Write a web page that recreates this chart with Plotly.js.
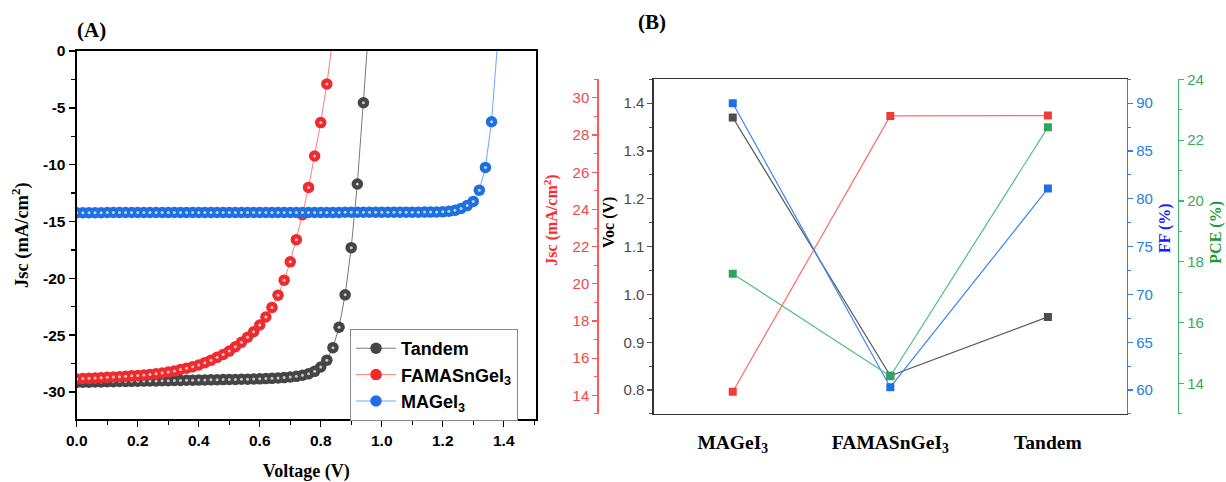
<!DOCTYPE html>
<html>
<head>
<meta charset="utf-8">
<script src="https://cdn.plot.ly/plotly-3.0.1.min.js"></script>
<style>html,body{margin:0;padding:0;background:#fff;}#chart{width:1226px;height:482px;}</style>
</head>
<body>
<div id="chart"></div>
<script>
// ---------- Panel (A): J-V curves ----------
const vTandem = [0.00,0.02,0.04,0.06,0.08,0.10,0.12,0.14,0.16,0.18,0.20,0.22,0.24,0.26,0.28,0.30,0.32,0.34,0.36,0.38,0.40,0.42,0.44,0.46,0.48,0.50,0.52,0.54,0.56,0.58,0.60,0.62,0.64,0.66,0.68,0.70,0.72,0.74,0.76,0.78,0.80,0.82,0.84,0.86,0.88,0.90,0.92,0.94,0.96];
const jTandem = [-29.15,-29.14,-29.13,-29.12,-29.11,-29.10,-29.09,-29.08,-29.07,-29.06,-29.05,-29.04,-29.03,-29.02,-29.01,-29.00,-28.99,-28.98,-28.97,-28.96,-28.95,-28.94,-28.93,-28.92,-28.91,-28.90,-28.89,-28.88,-28.87,-28.85,-28.84,-28.82,-28.80,-28.77,-28.73,-28.68,-28.62,-28.53,-28.40,-28.18,-27.80,-27.20,-26.10,-24.30,-21.45,-17.30,-11.70,-4.55,3.00];

const vFAMA = [0.00,0.02,0.04,0.06,0.08,0.10,0.12,0.14,0.16,0.18,0.20,0.22,0.24,0.26,0.28,0.30,0.32,0.34,0.36,0.38,0.40,0.42,0.44,0.46,0.48,0.50,0.52,0.54,0.56,0.58,0.60,0.62,0.64,0.66,0.68,0.70,0.72,0.74,0.76,0.78,0.80,0.82,0.84];
const jFAMA = [-28.85,-28.82,-28.80,-28.77,-28.74,-28.71,-28.68,-28.65,-28.62,-28.58,-28.54,-28.50,-28.45,-28.40,-28.33,-28.25,-28.15,-28.02,-27.90,-27.78,-27.62,-27.42,-27.20,-26.95,-26.70,-26.40,-26.02,-25.62,-25.18,-24.70,-24.10,-23.40,-22.56,-21.48,-20.16,-18.55,-16.60,-14.40,-12.00,-9.24,-6.30,-2.90,1.20];

const vMAGe = [0.00,0.02,0.04,0.06,0.08,0.10,0.12,0.14,0.16,0.18,0.20,0.22,0.24,0.26,0.28,0.30,0.32,0.34,0.36,0.38,0.40,0.42,0.44,0.46,0.48,0.50,0.52,0.54,0.56,0.58,0.60,0.62,0.64,0.66,0.68,0.70,0.72,0.74,0.76,0.78,0.80,0.82,0.84,0.86,0.88,0.90,0.92,0.94,0.96,0.98,1.00,1.02,1.04,1.06,1.08,1.10,1.12,1.14,1.16,1.18,1.20,1.22,1.24,1.26,1.28,1.30,1.32,1.34,1.36,1.38];
const jMAGe = [-14.22,-14.22,-14.22,-14.22,-14.22,-14.21,-14.21,-14.21,-14.21,-14.21,-14.21,-14.21,-14.21,-14.21,-14.21,-14.20,-14.20,-14.20,-14.20,-14.20,-14.20,-14.20,-14.20,-14.20,-14.20,-14.20,-14.20,-14.20,-14.20,-14.20,-14.20,-14.20,-14.20,-14.20,-14.20,-14.20,-14.20,-14.20,-14.20,-14.20,-14.20,-14.20,-14.20,-14.20,-14.19,-14.19,-14.19,-14.19,-14.19,-14.19,-14.19,-14.19,-14.19,-14.18,-14.18,-14.18,-14.18,-14.17,-14.17,-14.16,-14.15,-14.10,-14.02,-13.85,-13.60,-13.23,-12.24,-10.24,-6.22,0.80];

const seriesNamesA = ['Tandem','FAMASnGeI<sub>3</sub>','MAGeI<sub>3</sub>'];
const yTickValsA = [-30,-25,-20,-15,-10,-5,0];
const yTickTextA = ['-30','-25','-20','-15','-10','-5','0'];

// ---------- Panel (B): device parameters ----------
const devices = ['MAGeI<sub>3</sub>','FAMASnGeI<sub>3</sub>','Tandem'];
const voc = [1.370, 0.830, 0.953];
const jsc = [14.2, 29.03, 29.05];
const ff  = [90.0, 60.3, 81.07];
const pce = [17.61, 14.24, 22.42];

// ---------- styles ----------
const SERIF = 'Liberation Serif, Times New Roman, serif';
const SANS = 'Liberation Sans, Arial, sans-serif';
const colA = [
  {m:'#454545', l:'#7a7a7a'},
  {m:'#ee2b2f', l:'#ff7d7d'},
  {m:'#1e6fe0', l:'#6aa8ff'}
];
const dataA = [[vTandem,jTandem],[vFAMA,jFAMA],[vMAGe,jMAGe]];

const traces = [];
dataA.forEach((d,i)=>{
  traces.push({
    type:'scatter', mode:'lines+markers', x:d[0], y:d[1], name:seriesNamesA[i],
    xaxis:'x', yaxis:'y', cliponaxis:true,
    line:{color:colA[i].l, width:1},
    marker:{color:colA[i].m, size:11.5, line:{width:0}}
  });
  traces.push({
    type:'scatter', mode:'markers', x:d[0], y:d[1], showlegend:false, hoverinfo:'skip',
    xaxis:'x', yaxis:'y', cliponaxis:true,
    marker:{color:'rgba(255,255,255,0.7)', size:3, line:{width:0}}
  });
});

const colB = [
  {m:'#4d4d4d', l:'#5a5a5a', ax:'y2'},
  {m:'#ee3b3b', l:'#ff6b6b', ax:'y3'},
  {m:'#1f6fe5', l:'#3b86f5', ax:'y4'},
  {m:'#2ea55e', l:'#4cc27a', ax:'y5'}
];
[voc,jsc,ff,pce].forEach((vals,i)=>{
  traces.push({
    type:'scatter', mode:'lines+markers', x:devices, y:vals, showlegend:false,
    xaxis:'x2', yaxis:colB[i].ax,
    line:{color:colB[i].l, width:1.2},
    marker:{symbol:'square', color:colB[i].m, size:8, line:{width:0}}
  });
});

function yB(extra){
  return Object.assign({
    showgrid:false, zeroline:false, showline:true, linewidth:1.5, ticks:'outside',
    ticklen:5, tickwidth:1.2, automargin:false,
    domain:[0.1411,0.8355]
  }, extra);
}

const layout = {
  width:1226, height:482,
  margin:{l:0,r:0,t:0,b:0},
  paper_bgcolor:'#ffffff', plot_bgcolor:'#ffffff',
  font:{family:SANS, color:'#000'},
  showlegend:true,
  legend:{
    x:0.2855, y:0.3174, xanchor:'left', yanchor:'top',
    bgcolor:'#ffffff', bordercolor:'#8a8a8a', borderwidth:1,
    font:{family:SANS, size:18, weight:700, color:'#000'},
    itemwidth:40, traceorder:'normal'
  },
  xaxis:{
    domain:[0.0626,0.4370], anchor:'y', range:[0,1.505],
    showline:true, mirror:true, linecolor:'#000', linewidth:2.2,
    ticks:'outside', ticklen:6, tickwidth:1.5, tickcolor:'#000',
    tick0:0, dtick:0.2, tickformat:'.1f',
    minor:{dtick:0.1, ticks:'outside', ticklen:3.5, tickwidth:1.2, tickcolor:'#000'},
    showgrid:false, zeroline:false, automargin:false,
    tickfont:{family:SANS, size:15.5, weight:700, color:'#000'},
    title:{text:'Voltage (V)', font:{family:SERIF, size:18, weight:700, color:'#000'}, standoff:18}
  },
  yaxis:{
    domain:[0.1301,0.8942], anchor:'x', range:[-32.4,0],
    showline:true, mirror:true, linecolor:'#000', linewidth:2.2,
    ticks:'outside', ticklen:6, tickwidth:1.5, tickcolor:'#000',
    tickmode:'array', tickvals:yTickValsA, ticktext:yTickTextA,
    minor:{dtick:2.5, ticks:'outside', ticklen:3.5, tickwidth:1.2, tickcolor:'#000'},
    showgrid:false, zeroline:false, automargin:false,
    tickfont:{family:SANS, size:15.5, weight:700, color:'#000'},
    title:{text:'Jsc (mA/cm<sup>2</sup>)', font:{family:SERIF, size:18.5, weight:700, color:'#000'}, standoff:10}
  },
  xaxis2:{
    domain:[0.5334,0.9190], anchor:'y2', type:'category', range:[-0.5,2.5],
    showline:true, mirror:true, linecolor:'#333', linewidth:1.5,
    ticks:'', ticklabelstandoff:10, showgrid:false, zeroline:false, automargin:false,
    tickfont:{family:SERIF, size:19.5, weight:700, color:'#000'}
  },
  yaxis2: yB({
    anchor:'x2', side:'left', range:[0.75,1.45], linecolor:'#333', tickcolor:'#555',
    dtick:0.1, tick0:0, tickformat:'.1f',
    minor:{dtick:0.05, ticks:'outside', ticklen:3, tickwidth:1, tickcolor:'#555'},
    tickfont:{family:SANS, size:15, color:'#4a4a4a'}
  }),
  yaxis3: yB({
    overlaying:'y2', anchor:'free', position:0.4872, side:'left', range:[13,31],
    linecolor:'#ff5a5a', tickcolor:'#ff5a5a', dtick:2, tick0:0,
    minor:{dtick:1, ticks:'outside', ticklen:3, tickwidth:1, tickcolor:'#ff5a5a'},
    tickfont:{family:SANS, size:15, color:'#f04a4a'}
  }),
  yaxis4: yB({
    overlaying:'y2', anchor:'x2', side:'right', range:[57.5,92.5],
    linecolor:'#2b7ff0', tickcolor:'#2b7ff0', dtick:5, tick0:0,
    minor:{dtick:2.5, ticks:'outside', ticklen:3, tickwidth:1, tickcolor:'#2b7ff0'},
    tickfont:{family:SANS, size:15, color:'#2a7de1'}
  }),
  yaxis5: yB({
    overlaying:'y2', anchor:'free', position:0.9606, side:'right', range:[13,24],
    linecolor:'#3db56b', tickcolor:'#3db56b', dtick:2, tick0:0,
    minor:{dtick:1, ticks:'outside', ticklen:3, tickwidth:1, tickcolor:'#3db56b'},
    tickfont:{family:SANS, size:15, color:'#3aaa5c'}
  }),
  annotations:[
    {xref:'paper', yref:'paper', x:0.0750, y:0.9378, text:'(A)', showarrow:false, xanchor:'center', yanchor:'middle',
     font:{family:SERIF, size:21, weight:700, color:'#000'}},
    {xref:'paper', yref:'paper', x:0.5316, y:0.955, text:'(B)', showarrow:false, xanchor:'center', yanchor:'middle',
     font:{family:SERIF, size:21, weight:700, color:'#000'}},
    {xref:'paper', yref:'paper', x:0.4500, y:0.5436, text:'Jsc (mA/cm<sup>2</sup>)', textangle:-90, showarrow:false, xanchor:'center', yanchor:'middle',
     font:{family:SERIF, size:16, weight:700, color:'#ff2a2a'}},
    {xref:'paper', yref:'paper', x:0.4967, y:0.5394, text:'Voc (V)', textangle:-90, showarrow:false, xanchor:'center', yanchor:'middle',
     font:{family:SERIF, size:16, weight:700, color:'#000'}},
    {xref:'paper', yref:'paper', x:0.9502, y:0.5270, text:'FF (%)', textangle:-90, showarrow:false, xanchor:'center', yanchor:'middle',
     font:{family:SERIF, size:16, weight:700, color:'#1a1aff'}},
    {xref:'paper', yref:'paper', x:0.9916, y:0.5187, text:'PCE (%)', textangle:-90, showarrow:false, xanchor:'center', yanchor:'middle',
     font:{family:SERIF, size:16, weight:700, color:'#1f9a3a'}}
  ]
};

Plotly.newPlot('chart', traces, layout, {displayModeBar:false, staticPlot:true});
</script>
</body>
</html>
